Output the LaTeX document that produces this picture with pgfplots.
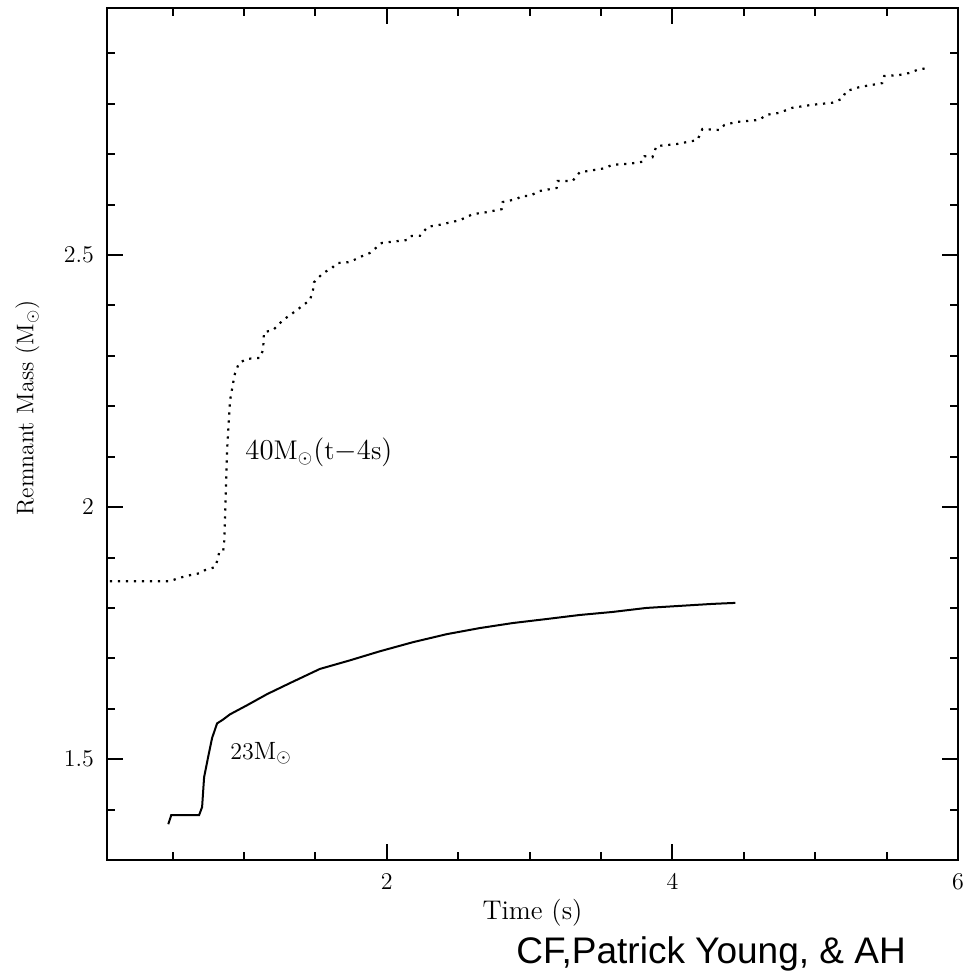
\documentclass[border=0pt]{standalone}
\usepackage{pgfplots}
\pgfplotsset{compat=1.18}
\usepackage{fontspec}
\newfontfamily\credfont{Liberation Sans}
\begin{document}
\begin{tikzpicture}
\begin{axis}[
 scale only axis, width=425.5pt, height=426pt,
 xmin=0.04, xmax=6, ymin=1.3, ymax=2.99,
 xtick={2,4,6}, minor xtick={0.5,1,1.5,2.5,3,3.5,4.5,5,5.5},
 ytick={1.5,2,2.5}, minor ytick={1.4,1.6,1.7,1.8,1.9,2.1,2.2,2.3,2.4,2.6,2.7,2.8,2.9},
 tick align=inside, major tick length=8pt, minor tick length=4pt,
 every tick/.style={black, line width=1pt},
 axis line style={line width=1.2pt},
 tick label style={font=\fontsize{12.5}{14}\selectfont},
 xticklabel style={yshift=-3.5pt},
 yticklabel style={xshift=-3pt},
 xlabel={Time (s)}, ylabel={Remnant Mass ($\mathrm{M}_\odot$)},
 every axis x label/.style={at={([yshift=-26.5pt]rel axis cs:0.5,0)}, anchor=center, font=\fontsize{13.5}{15}\selectfont},
 every axis y label/.style={at={([xshift=-39.75pt]rel axis cs:0,0.5305)}, anchor=center, rotate=90, font=\fontsize{12}{14}\selectfont},
 clip=false,
 scaled ticks=false,
]
% 23 Msun (solid)
\addplot[black, line width=1pt] coordinates {
(0.469,1.371) (0.490,1.389) (0.685,1.389) (0.706,1.405) (0.720,1.464) (0.748,1.504)
(0.776,1.542) (0.811,1.571) (0.850,1.578) (0.902,1.589) (1.021,1.607) (1.161,1.629)
(1.322,1.651) (1.531,1.679) (1.741,1.696) (1.951,1.714) (2.182,1.732) (2.420,1.748)
(2.650,1.760) (2.881,1.770) (3.119,1.778) (3.350,1.786) (3.580,1.792) (3.818,1.800)
(4.049,1.804) (4.280,1.808) (4.441,1.810)
};
% 40 Msun (dotted)
\addplot[black, line width=1.1pt, dash pattern=on 1.1pt off 2.9pt] coordinates {
(0.06,1.853) (0.483,1.853) (0.538,1.859) (0.622,1.865) (0.692,1.869) (0.727,1.875)
(0.797,1.881) (0.811,1.893) (0.825,1.909) (0.853,1.911) (0.860,1.929) (0.867,1.980)
(0.874,2.048) (0.881,2.113) (0.895,2.179) (0.902,2.212) (0.923,2.246) (0.937,2.266)
(0.965,2.286) (1.021,2.294) (1.112,2.296) (1.133,2.312) (1.140,2.347) (1.203,2.351)
(1.273,2.371) (1.371,2.391) (1.462,2.411) (1.483,2.431) (1.490,2.446) (1.552,2.464)
(1.615,2.474) (1.650,2.484) (1.741,2.486) (1.811,2.496) (1.881,2.504) (1.965,2.524)
(2.147,2.530) (2.175,2.538) (2.231,2.538) (2.287,2.556) (2.371,2.560) (2.510,2.569)
(2.601,2.581) (2.699,2.585) (2.804,2.591) (2.811,2.605) (2.909,2.611) (2.944,2.617)
(3.000,2.617) (3.070,2.627) (3.189,2.633) (3.196,2.647) (3.301,2.647) (3.350,2.664)
(3.524,2.672) (3.580,2.679) (3.699,2.681) (3.790,2.685) (3.804,2.696) (3.860,2.694)
(3.888,2.716) (4.028,2.720) (4.175,2.728) (4.210,2.750) (4.329,2.748) (4.364,2.758)
(4.448,2.764) (4.608,2.768) (4.657,2.778) (4.748,2.782) (4.839,2.792) (4.979,2.798)
(5.119,2.802) (5.189,2.810) (5.217,2.825) (5.308,2.833) (5.469,2.841) (5.483,2.855)
(5.587,2.857) (5.657,2.861) (5.713,2.867) (5.783,2.871)
};
\node[anchor=west, font=\fontsize{13.5}{15}\selectfont, inner sep=0pt] at (axis cs:1.007,2.109) {$40\mathrm{M}_\odot(\mathrm{t}{-}4\mathrm{s})$};
\node[anchor=west, font=\fontsize{12.5}{14}\selectfont, inner sep=0pt] at (axis cs:0.902,1.512) {$23\mathrm{M}_\odot$};
\node[anchor=base west, inner sep=0pt, font=\credfont\fontsize{18.5}{20}\selectfont] at (rel axis cs:0.4806,-0.1209) {CF,Patrick Young, \& AH};
\end{axis}
\pgfresetboundingbox
\path (-53.5pt,-56.5pt) rectangle (435pt,430pt);
\end{tikzpicture}
\end{document}
